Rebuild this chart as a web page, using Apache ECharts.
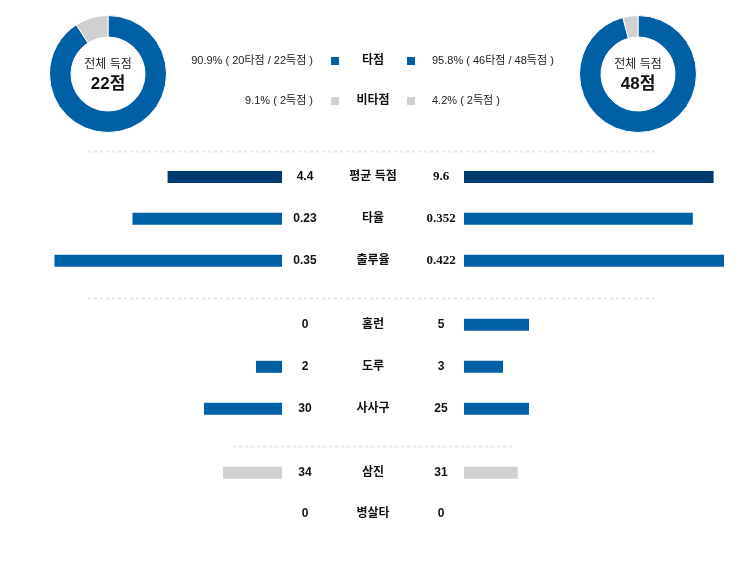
<!DOCTYPE html>
<html><head><meta charset="utf-8">
<script src="https://cdn.jsdelivr.net/npm/echarts@6/dist/echarts.min.js"></script>
<style>html,body{margin:0;padding:0;background:#fff}#c{width:746px;height:566px}</style>
</head><body><div id="c"></div>
<script>
// ---- data ----
const donutLeft = [20, 2];      // 타점, 비타점
const donutRight = [46, 2];
const donutTotals = ['22점', '48점'];
const legendLeft = ['90.9% ( 20타점 / 22득점 )', '9.1% ( 2득점 )'];
const legendRight = ['95.8% ( 46타점 / 48득점 )', '4.2% ( 2득점 )'];
const legendNames = ['타점', '비타점'];

const categories = ['평균 득점', '타율', '출루율', '홈런', '도루', '사사구', '삼진', '병살타'];
const leftValues = [4.4, 0.23, 0.35, 0, 2, 30, 34, 0];
const rightValues = [9.6, 0.352, 0.422, 5, 3, 25, 31, 0];
const leftLabels = ['4.4', '0.23', '0.35', '0', '2', '30', '34', '0'];
const rightLabels = ['9.6', '0.352', '0.422', '5', '3', '25', '31', '0'];
const rowMax = [10, 0.4, 0.4, 20, 20, 100, 150, 10];

// ---- layout / style ----
const BLUE = '#0060a6', DARK = '#003b72', GRAY = '#d0d0d0';
const rowColors = [DARK, BLUE, BLUE, BLUE, BLUE, BLUE, GRAY, GRAY];
const rowY = [177, 218.8, 260.8, 324.8, 366.8, 408.8, 472.8, 514];
const SANS = "'Liberation Sans', Arial, 'Noto Sans CJK KR', sans-serif";
const SERIF = "'Liberation Serif', 'Times New Roman', 'Noto Sans CJK KR', serif";
const BAR_H = 12;

const grid = [], xAxis = [], yAxis = [], series = [], graphic = [];

categories.forEach((cat, i) => {
  const top = rowY[i] - BAR_H / 2;
  [0, 1].forEach(side => {
    const gi = grid.length;
    grid.push({ left: side === 0 ? 22 : 464, width: 260, top: top, height: BAR_H, containLabel: false });
    xAxis.push({ type: 'value', gridIndex: gi, min: 0, max: rowMax[i], inverse: side === 0, show: false });
    yAxis.push({ type: 'category', gridIndex: gi, data: [cat], show: false });
    series.push({
      type: 'bar', xAxisIndex: gi, yAxisIndex: gi, barWidth: BAR_H, clip: true,
      data: [side === 0 ? leftValues[i] : rightValues[i]],
      itemStyle: { color: rowColors[i] }, silent: true, animation: false
    });
  });
  graphic.push({ type: 'text', x: 305, y: rowY[i], style: { text: leftLabels[i], font: 'bold 12px ' + SANS, fill: '#111', align: 'center', verticalAlign: 'middle' } });
  graphic.push({ type: 'text', x: 373, y: rowY[i], style: { text: cat, font: 'bold 12px ' + SANS, fill: '#111', align: 'center', verticalAlign: 'middle' } });
  graphic.push({ type: 'text', x: 441, y: rowY[i], style: { text: rightLabels[i], font: 'bold ' + (i < 3 ? '13px ' + SERIF : '12px ' + SANS), fill: '#111', align: 'center', verticalAlign: 'middle' } });
});

// donuts
const centers = [[108, 74], [638, 74]];
[donutLeft, donutRight].forEach((d, k) => {
  series.push({
    type: 'pie', center: centers[k], radius: [37, 58.5], startAngle: 90, clockwise: true,
    silent: true, animation: false, label: { show: false }, labelLine: { show: false },
    itemStyle: { borderColor: '#fff', borderWidth: 1 },
    data: [{ value: d[0], name: legendNames[0], itemStyle: { color: BLUE } },
           { value: d[1], name: legendNames[1], itemStyle: { color: GRAY } }]
  });
  graphic.push({ type: 'text', x: centers[k][0], y: centers[k][1] - 9, style: { text: '전체 득점', font: '12px ' + SANS, fill: '#222', align: 'center', verticalAlign: 'middle' } });
  graphic.push({ type: 'text', x: centers[k][0], y: centers[k][1] + 10, style: { text: donutTotals[k], font: 'bold 17px ' + SANS, fill: '#111', align: 'center', verticalAlign: 'middle' } });
});

// legend block
const legY = [61, 101];
const legColors = [BLUE, GRAY];
legY.forEach((y, r) => {
  graphic.push({ type: 'text', x: 313, y: y, style: { text: legendLeft[r], font: '11px ' + SANS, fill: '#222', align: 'right', verticalAlign: 'middle' } });
  graphic.push({ type: 'rect', shape: { x: 331, y: y - 4, width: 8, height: 8 }, style: { fill: legColors[r] } });
  graphic.push({ type: 'text', x: 373, y: y, style: { text: legendNames[r], font: 'bold 12px ' + SANS, fill: '#111', align: 'center', verticalAlign: 'middle' } });
  graphic.push({ type: 'rect', shape: { x: 407, y: y - 4, width: 8, height: 8 }, style: { fill: legColors[r] } });
  graphic.push({ type: 'text', x: 432, y: y, style: { text: legendRight[r], font: '11px ' + SANS, fill: '#222', align: 'left', verticalAlign: 'middle' } });
});

// dashed separators
[[88, 655, 151.5], [88, 655, 298.5], [233, 512, 446.5]].forEach(s => {
  graphic.push({ type: 'line', shape: { x1: s[0], y1: s[2], x2: s[1], y2: s[2] }, style: { stroke: '#e6e6e6', lineWidth: 2, lineDash: [3, 3] } });
});

const chart = echarts.init(document.getElementById('c'), null, { renderer: 'canvas' });
chart.setOption({ animation: false, grid, xAxis, yAxis, series, graphic });
</script></body></html>
